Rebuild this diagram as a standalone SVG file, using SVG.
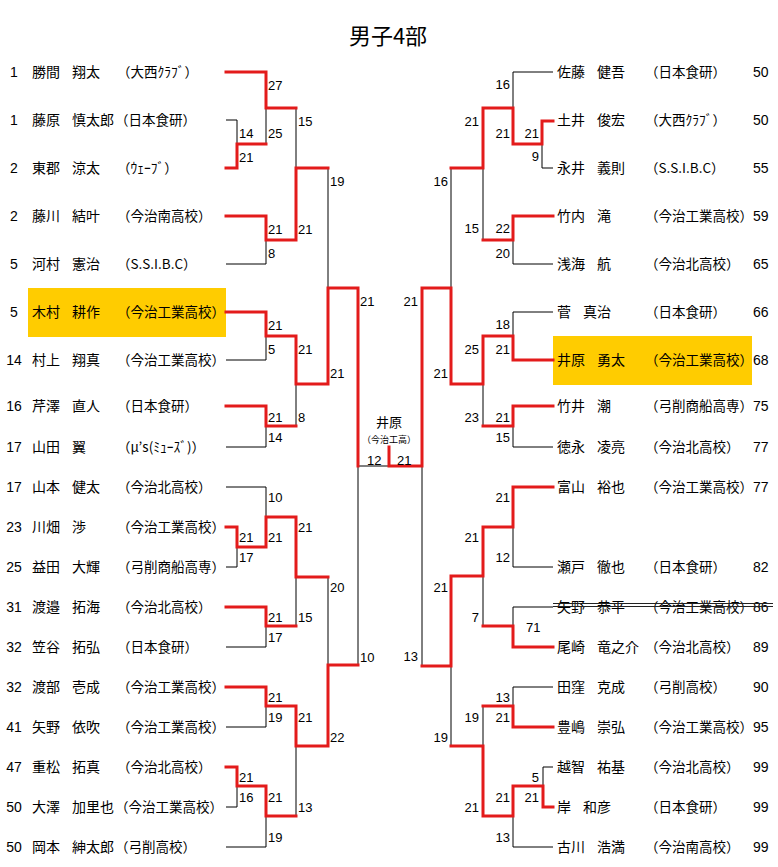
<svg xmlns="http://www.w3.org/2000/svg" width="778" height="867" viewBox="0 0 778 867">
<style>
.bg{fill:#fff}
.hl{fill:#ffcc00}
.nm{font-family:"Noto Sans CJK JP","Noto Sans",sans-serif;font-size:14px;fill:#000}
.af{font-family:"Noto Sans CJK JP","Noto Sans",sans-serif;font-size:13.5px;fill:#000}
.sd{font-family:"Liberation Sans",Arial,sans-serif;font-size:14px;fill:#000}
.lb{font-family:"Liberation Sans",Arial,sans-serif;font-size:13px;fill:#000}
.lbr{font-family:"Liberation Sans",Arial,sans-serif;font-size:13px;fill:#000;text-anchor:end}
.ttl{font-family:"Noto Sans CJK JP","Noto Sans",sans-serif;font-size:22px;fill:#000;text-anchor:middle}
.bk{fill:none;stroke:#000;stroke-width:1}
.rd{fill:none;stroke:#e31b1b;stroke-width:3;stroke-linejoin:miter;stroke-linecap:square}
.st{stroke:#222;stroke-width:1.2}
</style>
<rect class="bg" x="0" y="0" width="778" height="867"/>
<text class="ttl" x="388" y="44">男子4部</text>

<g id="nodes-left">
<g id="L1"><text class="sd" x="14" y="77" text-anchor="middle">1</text><text class="nm" x="32" y="77">勝間</text><text class="nm" x="72" y="77">翔太</text><text class="af" x="117" y="77">（大西ｸﾗﾌﾞ）</text></g>
<g id="L2"><text class="sd" x="14" y="125" text-anchor="middle">1</text><text class="nm" x="32" y="125">藤原</text><text class="nm" x="72" y="125">慎太郎</text><text class="af" x="115" y="125">（日本食研）</text></g>
<g id="L3"><text class="sd" x="14" y="173" text-anchor="middle">2</text><text class="nm" x="32" y="173">東郡</text><text class="nm" x="72" y="173">涼太</text><text class="af" x="117" y="173">（ｳｪｰﾌﾞ）</text></g>
<g id="L4"><text class="sd" x="14" y="221" text-anchor="middle">2</text><text class="nm" x="32" y="221">藤川</text><text class="nm" x="72" y="221">結叶</text><text class="af" x="117" y="221">（今治南高校）</text></g>
<g id="L5"><text class="sd" x="14" y="269" text-anchor="middle">5</text><text class="nm" x="32" y="269">河村</text><text class="nm" x="72" y="269">憲治</text><text class="af" x="117" y="269">（S.S.I.B.C）</text></g>
<g id="L6"><rect class="hl" x="28" y="288" width="198" height="49"/><text class="sd" x="14" y="317" text-anchor="middle">5</text><text class="nm" x="32" y="317">木村</text><text class="nm" x="72" y="317">耕作</text><text class="af" x="117" y="317">（今治工業高校）</text></g>
<g id="L7"><text class="sd" x="14" y="365" text-anchor="middle">14</text><text class="nm" x="32" y="365">村上</text><text class="nm" x="72" y="365">翔真</text><text class="af" x="117" y="365">（今治工業高校）</text></g>
<g id="L8"><text class="sd" x="14" y="411" text-anchor="middle">16</text><text class="nm" x="32" y="411">芹澤</text><text class="nm" x="72" y="411">直人</text><text class="af" x="117" y="411">（日本食研）</text></g>
<g id="L9"><text class="sd" x="14" y="452" text-anchor="middle">17</text><text class="nm" x="32" y="452">山田</text><text class="nm" x="72" y="452">翼</text><text class="af" x="117" y="452">（μ’s(ﾐｭｰｽﾞ)）</text></g>
<g id="L10"><text class="sd" x="14" y="492" text-anchor="middle">17</text><text class="nm" x="32" y="492">山本</text><text class="nm" x="72" y="492">健太</text><text class="af" x="117" y="492">（今治北高校）</text></g>
<g id="L11"><text class="sd" x="14" y="532" text-anchor="middle">23</text><text class="nm" x="32" y="532">川畑</text><text class="nm" x="72" y="532">渉</text><text class="af" x="117" y="532">（今治工業高校）</text></g>
<g id="L12"><text class="sd" x="14" y="572" text-anchor="middle">25</text><text class="nm" x="32" y="572">益田</text><text class="nm" x="72" y="572">大輝</text><text class="af" x="117" y="572">（弓削商船高専）</text></g>
<g id="L13"><text class="sd" x="14" y="612" text-anchor="middle">31</text><text class="nm" x="32" y="612">渡邉</text><text class="nm" x="72" y="612">拓海</text><text class="af" x="117" y="612">（今治北高校）</text></g>
<g id="L14"><text class="sd" x="14" y="652" text-anchor="middle">32</text><text class="nm" x="32" y="652">笠谷</text><text class="nm" x="72" y="652">拓弘</text><text class="af" x="117" y="652">（日本食研）</text></g>
<g id="L15"><text class="sd" x="14" y="692" text-anchor="middle">32</text><text class="nm" x="32" y="692">渡部</text><text class="nm" x="72" y="692">壱成</text><text class="af" x="117" y="692">（今治工業高校）</text></g>
<g id="L16"><text class="sd" x="14" y="732" text-anchor="middle">41</text><text class="nm" x="32" y="732">矢野</text><text class="nm" x="72" y="732">依吹</text><text class="af" x="117" y="732">（今治工業高校）</text></g>
<g id="L17"><text class="sd" x="14" y="772" text-anchor="middle">47</text><text class="nm" x="32" y="772">重松</text><text class="nm" x="72" y="772">拓真</text><text class="af" x="117" y="772">（今治北高校）</text></g>
<g id="L18"><text class="sd" x="14" y="812" text-anchor="middle">50</text><text class="nm" x="32" y="812">大澤</text><text class="nm" x="72" y="812">加里也</text><text class="af" x="115" y="812">（今治工業高校）</text></g>
<g id="L19"><text class="sd" x="14" y="852" text-anchor="middle">50</text><text class="nm" x="32" y="852">岡本</text><text class="nm" x="72" y="852">紳太郎</text><text class="af" x="115" y="852">（弓削高校）</text></g>
</g>

<g id="nodes-right">
<g id="R1"><text class="nm" x="557" y="77">佐藤</text><text class="nm" x="597" y="77">健吾</text><text class="af" x="645" y="77">（日本食研）</text><text class="sd" x="753" y="77">50</text></g>
<g id="R2"><text class="nm" x="557" y="125">土井</text><text class="nm" x="597" y="125">俊宏</text><text class="af" x="645" y="125">（大西ｸﾗﾌﾞ）</text><text class="sd" x="753" y="125">50</text></g>
<g id="R3"><text class="nm" x="557" y="173">永井</text><text class="nm" x="597" y="173">義則</text><text class="af" x="645" y="173">（S.S.I.B.C）</text><text class="sd" x="753" y="173">55</text></g>
<g id="R4"><text class="nm" x="557" y="221">竹内</text><text class="nm" x="597" y="221">滝</text><text class="af" x="645" y="221">（今治工業高校）</text><text class="sd" x="753" y="221">59</text></g>
<g id="R5"><text class="nm" x="557" y="269">浅海</text><text class="nm" x="597" y="269">航</text><text class="af" x="645" y="269">（今治北高校）</text><text class="sd" x="753" y="269">65</text></g>
<g id="R6"><text class="nm" x="557" y="317">菅</text><text class="nm" x="583" y="317">真治</text><text class="af" x="645" y="317">（日本食研）</text><text class="sd" x="753" y="317">66</text></g>
<g id="R7"><rect class="hl" x="553" y="336" width="199" height="49"/><text class="nm" x="557" y="365">井原</text><text class="nm" x="597" y="365">勇太</text><text class="af" x="645" y="365">（今治工業高校）</text><text class="sd" x="753" y="365">68</text></g>
<g id="R8"><text class="nm" x="557" y="411">竹井</text><text class="nm" x="597" y="411">潮</text><text class="af" x="645" y="411">（弓削商船高専）</text><text class="sd" x="753" y="411">75</text></g>
<g id="R9"><text class="nm" x="557" y="452">徳永</text><text class="nm" x="597" y="452">凌亮</text><text class="af" x="645" y="452">（今治北高校）</text><text class="sd" x="753" y="452">77</text></g>
<g id="R10"><text class="nm" x="557" y="492">富山</text><text class="nm" x="597" y="492">裕也</text><text class="af" x="645" y="492">（今治工業高校）</text><text class="sd" x="753" y="492">77</text></g>
<g id="R11"><text class="nm" x="557" y="572">瀬戸</text><text class="nm" x="597" y="572">徹也</text><text class="af" x="645" y="572">（日本食研）</text><text class="sd" x="753" y="572">82</text></g>
<g id="R12"><text class="nm" x="557" y="612">矢野</text><text class="nm" x="597" y="612">恭平</text><text class="af" x="645" y="612">（今治工業高校）</text><text class="sd" x="753" y="612">86</text><line class="st" x1="553" y1="603.5" x2="773" y2="603.5"/><line class="st" x1="553" y1="606.5" x2="773" y2="606.5"/></g>
<g id="R13"><text class="nm" x="557" y="652">尾崎</text><text class="nm" x="597" y="652">竜之介</text><text class="af" x="645" y="652">（今治北高校）</text><text class="sd" x="753" y="652">89</text></g>
<g id="R14"><text class="nm" x="557" y="692">田窪</text><text class="nm" x="597" y="692">克成</text><text class="af" x="645" y="692">（弓削高校）</text><text class="sd" x="753" y="692">90</text></g>
<g id="R15"><text class="nm" x="557" y="732">豊嶋</text><text class="nm" x="597" y="732">崇弘</text><text class="af" x="645" y="732">（今治工業高校）</text><text class="sd" x="753" y="732">95</text></g>
<g id="R16"><text class="nm" x="557" y="772">越智</text><text class="nm" x="597" y="772">祐基</text><text class="af" x="645" y="772">（今治北高校）</text><text class="sd" x="753" y="772">99</text></g>
<g id="R17"><text class="nm" x="557" y="812">岸</text><text class="nm" x="583" y="812">和彦</text><text class="af" x="645" y="812">（日本食研）</text><text class="sd" x="753" y="812">99</text></g>
<g id="R18"><text class="nm" x="557" y="852">古川</text><text class="nm" x="597" y="852">浩満</text><text class="af" x="645" y="852">（今治南高校）</text><text class="sd" x="753" y="852">99</text></g>
</g>

<g id="champion">
<text class="nm" x="389" y="427" text-anchor="middle" style="font-size:13px">井原</text>
<text class="nm" x="389" y="443" text-anchor="middle" style="font-size:9px">（今治工高）</text>
</g>

<g id="connectors">
<path class="bk" d="M226,120H237V144 M226,264H266V240 M226,360H266V336 M226,447H266V426 M226,487H266V517 M226,567H237V547 M226,647H266V626 M226,727H266V706 M226,807H237V786 M226,847H266V816 M266,108V144 M296,108V168 M296,384V426 M296,577V626 M296,746V816 M328,168V288 M328,577V665 M358,466V665 M358,466H389"/>
<path class="bk" d="M553,72H513V108 M553,168H542V144 M553,264H513V240 M483,168V240 M553,312H513V336 M553,447H513V426 M483,384V426 M553,567H513V527 M553,607H513V626 M483,576V626 M553,687H513V706 M483,706V746 M553,767H543V786 M553,847H513V816 M451,168V288 M451,666V746 M422,466V666"/>
<path class="rd" d="M226,72H266V108H296"/>
<path class="rd" d="M226,168H237V144H266"/>
<path class="rd" d="M226,216H266V240H296V168H328"/>
<path class="rd" d="M226,312H266V336H296V384H328V288H358V466"/>
<path class="rd" d="M226,406H266V426H296"/>
<path class="rd" d="M226,527H237V547H266V517H296V577H328"/>
<path class="rd" d="M226,607H266V626H296"/>
<path class="rd" d="M226,687H266V706H296V746H328V665H358"/>
<path class="rd" d="M226,767H237V786H266V816H296"/>
<path class="rd" d="M553,121H542V144H513V108H483V168H451"/>
<path class="rd" d="M553,216H513V240H483"/>
<path class="rd" d="M553,360H513V336H483V384H451V288H422V466H389V447"/>
<path class="rd" d="M553,406H513V426H483"/>
<path class="rd" d="M553,487H513V527H483V576H451V666H422"/>
<path class="rd" d="M553,647H513V626H483"/>
<path class="rd" d="M553,727H513V706H483"/>
<path class="rd" d="M553,807H543V786H513V816H483V746H451"/>
</g>

<g id="scores">
<text class="lb" x="239" y="138">14</text><text class="lb" x="239" y="162">21</text><text class="lb" x="239" y="542">21</text><text class="lb" x="239" y="562">17</text><text class="lb" x="239" y="782">21</text><text class="lb" x="239" y="802">16</text>
<text class="lb" x="268" y="90">27</text><text class="lb" x="268" y="138">25</text><text class="lb" x="268" y="234">21</text><text class="lb" x="268" y="258">8</text><text class="lb" x="268" y="330">21</text><text class="lb" x="268" y="354">5</text><text class="lb" x="268" y="422">21</text><text class="lb" x="268" y="442">14</text><text class="lb" x="268" y="502">10</text><text class="lb" x="268" y="542">21</text><text class="lb" x="268" y="622">21</text><text class="lb" x="268" y="642">17</text><text class="lb" x="268" y="702">21</text><text class="lb" x="268" y="722">19</text><text class="lb" x="268" y="802">21</text><text class="lb" x="268" y="842">19</text>
<text class="lb" x="298" y="126">15</text><text class="lb" x="298" y="234">21</text><text class="lb" x="298" y="354">21</text><text class="lb" x="298" y="422">8</text><text class="lb" x="298" y="532">21</text><text class="lb" x="298" y="622">15</text><text class="lb" x="298" y="722">21</text><text class="lb" x="298" y="812">13</text>
<text class="lb" x="330" y="186">19</text><text class="lb" x="330" y="378">21</text><text class="lb" x="330" y="592">20</text><text class="lb" x="330" y="742">22</text>
<text class="lb" x="360" y="306">21</text><text class="lb" x="360" y="662">10</text>
<text class="lb" x="367" y="465">12</text><text class="lb" x="397" y="465">21</text>
<text class="lbr" x="418" y="306">21</text><text class="lbr" x="418" y="661">13</text>
<text class="lbr" x="448" y="186">16</text><text class="lbr" x="448" y="378">21</text><text class="lbr" x="448" y="592">21</text><text class="lbr" x="448" y="742">19</text>
<text class="lbr" x="479" y="126">21</text><text class="lbr" x="479" y="233">15</text><text class="lbr" x="479" y="354">25</text><text class="lbr" x="479" y="422">23</text><text class="lbr" x="479" y="542">21</text><text class="lbr" x="479" y="622">7</text><text class="lbr" x="479" y="722">19</text><text class="lbr" x="479" y="812">21</text>
<text class="lbr" x="510" y="89">16</text><text class="lbr" x="510" y="138">21</text><text class="lbr" x="510" y="233">22</text><text class="lbr" x="510" y="258">20</text><text class="lbr" x="510" y="329">18</text><text class="lbr" x="510" y="354">21</text><text class="lbr" x="510" y="422">21</text><text class="lbr" x="510" y="442">15</text><text class="lbr" x="510" y="502">21</text><text class="lbr" x="510" y="562">12</text><text class="lbr" x="510" y="702">13</text><text class="lbr" x="510" y="722">21</text><text class="lbr" x="510" y="802">21</text><text class="lbr" x="510" y="842">13</text>
<text class="lbr" x="539" y="138">21</text><text class="lbr" x="539" y="161">9</text><text class="lbr" x="539" y="782">5</text><text class="lbr" x="539" y="802">21</text>
<text class="lb" x="526" y="632">71</text>
</g>
</svg>
